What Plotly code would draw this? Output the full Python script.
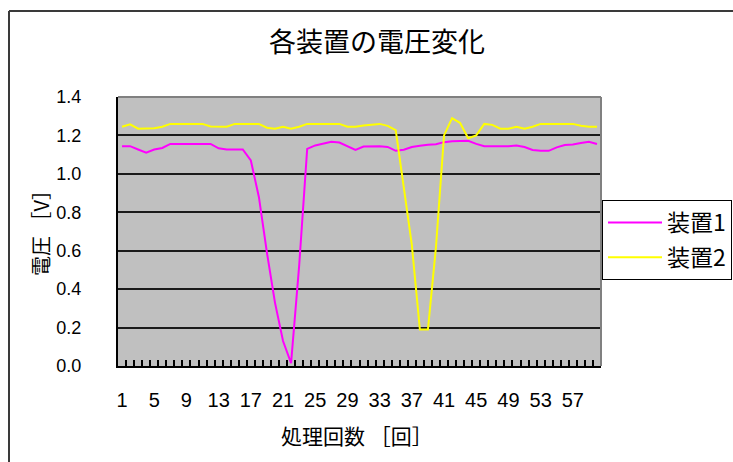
import plotly.graph_objects as go

# 処理回数 (1..60) and the voltage of each device
runs = list(range(1, 61))

device1 = [1.144, 1.144, 1.127, 1.110, 1.127, 1.135, 1.156, 1.156, 1.156, 1.156,
           1.156, 1.156, 1.133, 1.127, 1.127, 1.127, 1.070, 0.880, 0.590, 0.330,
           0.130, 0.015, 0.520, 1.130, 1.148, 1.157, 1.167, 1.163, 1.145, 1.125,
           1.142, 1.144, 1.144, 1.140, 1.120, 1.126, 1.140, 1.146, 1.152, 1.154,
           1.165, 1.170, 1.172, 1.172, 1.156, 1.144, 1.144, 1.144, 1.144, 1.148,
           1.140, 1.124, 1.120, 1.120, 1.138, 1.150, 1.153, 1.160, 1.167, 1.155]

device2 = [1.245, 1.258, 1.235, 1.235, 1.238, 1.245, 1.260, 1.260, 1.260, 1.260,
           1.260, 1.247, 1.245, 1.245, 1.260, 1.260, 1.260, 1.260, 1.240, 1.235,
           1.245, 1.235, 1.245, 1.260, 1.260, 1.260, 1.260, 1.260, 1.245, 1.245,
           1.252, 1.255, 1.260, 1.250, 1.228, 0.930, 0.630, 0.190, 0.190, 0.620,
           1.200, 1.290, 1.265, 1.185, 1.200, 1.260, 1.255, 1.235, 1.235, 1.245,
           1.235, 1.245, 1.260, 1.260, 1.260, 1.260, 1.260, 1.250, 1.245, 1.245]

series_names = ["装置1", "装置2"]
series_colors = ["#FF00FF", "#FFFF00"]

x_ticks = list(range(1, 60, 4))
y_ticks = [0.0, 0.2, 0.4, 0.6, 0.8, 1.0, 1.2, 1.4]

title_text = "各装置の電圧変化"
x_title = "処理回数 ［回］"
y_title = "電圧 ［V］"

# page and plot-area geometry in pixels
W, H = 733, 462
PL, PR, PT, PB = 118, 601, 97, 366


def fx(p):
    return (p - PL) / (PR - PL)


def fy(p):
    return (PB - p) / (PB - PT)


CJK = "Noto Sans CJK JP, Noto Sans CJK SC, sans-serif"
NUM = "Liberation Sans Narrow, Liberation Sans, Arial, sans-serif"
CLEAR = "rgba(0,0,0,0)"

# category boundaries, where the small tick marks sit
boundaries = [r - 0.5 for r in runs] + [runs[-1] + 0.5]
x_range = [boundaries[0], boundaries[-1]]

fig = go.Figure()
axes_for = ["x", "x2"]
for name, vals, col, xa in zip(series_names, [device1, device2], series_colors, axes_for):
    fig.add_trace(go.Scatter(
        x=runs, y=vals, name=name, mode="lines", legendgroup=name,
        xaxis=xa, yaxis="y",
        line=dict(color=col, width=2),
    ))

fig.update_layout(
    width=W, height=H,
    margin=dict(l=PL, r=W - PR, t=PT, b=H - PB, pad=0, autoexpand=False),
    paper_bgcolor="white",
    plot_bgcolor="#C0C0C0",
    showlegend=True,
    legend=dict(
        x=fx(602), y=fy(200), xanchor="left", yanchor="top",
        bgcolor="white", bordercolor="black", borderwidth=1,
        font=dict(family=CJK, size=23, color="black"),
        itemwidth=54, tracegroupgap=2,
    ),
    title=dict(
        text=title_text, x=377 / W, xref="container", xanchor="center",
        y=1 - 43 / H, yref="container", yanchor="middle",
        font=dict(family=CJK, size=27, color="black"),
    ),
    # base x axis: axis line and inward ticks between categories
    xaxis=dict(
        range=x_range,
        tickmode="array", tickvals=boundaries, showticklabels=False,
        ticks="inside", ticklen=6, tickwidth=2, tickcolor="black",
        showgrid=False, zeroline=False,
        showline=True, linecolor="black", linewidth=2,
    ),
    # overlaid x axis: run-number labels every 4 categories
    xaxis2=dict(
        overlaying="x", matches="x", anchor="y", side="bottom", range=x_range,
        tickmode="array", tickvals=x_ticks, ticktext=[str(v) for v in x_ticks],
        ticks="outside", ticklen=16, tickcolor=CLEAR,
        tickfont=dict(family=NUM, size=20, color="black"),
        showgrid=False, zeroline=False, showline=False,
    ),
    yaxis=dict(
        range=[0, 1.4],
        tickmode="array", tickvals=y_ticks, tickformat=".1f",
        ticks="outside", ticklen=31, tickcolor=CLEAR,
        tickfont=dict(family=NUM, size=18, color="black"),
        showgrid=True, gridcolor="#1a1a1a", gridwidth=2,
        zeroline=False,
        showline=True, linecolor="black", linewidth=2,
    ),
)

# grey top and right edges of the plot area
fig.add_shape(type="line", xref="paper", yref="paper", x0=0, x1=1, y0=1, y1=1,
              line=dict(color="#808080", width=2), layer="above")
fig.add_shape(type="line", xref="paper", yref="paper", x0=1, x1=1, y0=0, y1=1,
              line=dict(color="#808080", width=2), layer="above")

# chart-area frame (top and left edges visible)
fig.add_shape(type="line", xref="paper", yref="paper",
              x0=fx(9), x1=fx(W + 5), y0=fy(11), y1=fy(11),
              line=dict(color="#3a3a3a", width=2))
fig.add_shape(type="line", xref="paper", yref="paper",
              x0=fx(9), x1=fx(9), y0=fy(11), y1=fy(H + 5),
              line=dict(color="#3a3a3a", width=2))

# axis titles
fig.add_annotation(text=y_title, xref="paper", yref="paper",
                   x=fx(40), y=fy(228), xanchor="center", yanchor="middle",
                   textangle=-90, showarrow=False,
                   font=dict(family=CJK, size=20, color="black"))
fig.add_annotation(text=x_title, xref="paper", yref="paper",
                   x=fx(357), y=fy(435), xanchor="center", yanchor="middle",
                   showarrow=False,
                   font=dict(family=CJK, size=21, color="black"))

fig.write_html("out.html")
